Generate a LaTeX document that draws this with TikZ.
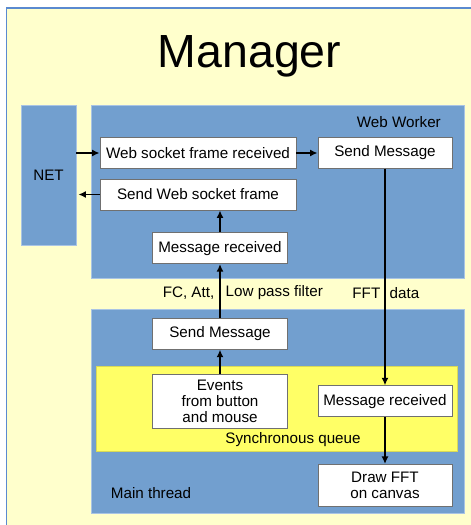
\documentclass[tikz,border=0pt]{standalone}
\usepackage{fontspec}
\setmainfont{Liberation Sans}
\usetikzlibrary{arrows.meta}
\definecolor{paper}{HTML}{FFFFCC}
\definecolor{frameblue}{HTML}{5A8AD0}
\definecolor{panel}{HTML}{729FCF}
\definecolor{paneledge}{HTML}{A9C4E4}
\definecolor{queue}{HTML}{FFFF66}
\definecolor{boxedge}{HTML}{707070}
\begin{document}
\begin{tikzpicture}[x=1pt,y=-1pt,
  txt/.style={font=\fontsize{15.2}{16.3}\selectfont, text=black},
  panelbox/.style={draw=paneledge, line width=0.8pt, fill=panel, inner sep=0pt},
  wbox/.style={txt, draw=boxedge, line width=0.8pt, fill=white, inner sep=0pt, align=center},
  flow/.style={line width=1.9pt, -{Latex[length=7.5pt,width=7pt]}},
  lbl/.style={txt, inner sep=0pt}]
\useasboundingbox (0,0) rectangle (471,525);
% sheet
\draw[frameblue, line width=1.2pt, fill=paper] (6.5,8) rectangle (480,535);
\node[font=\fontsize{46.5}{50}\selectfont, anchor=base, inner sep=0pt] (title) at (249.5,67.7) {Manager};
% panels
\node[panelbox, minimum width=55pt, minimum height=140pt] (net) at (48.5,175) {};
\node[txt] (netlbl) at (48.5,175.3) {NET};
\node[panelbox, minimum width=373pt, minimum height=173pt] (ww) at (277.5,191.5) {};
\node[lbl, anchor=east] (wwlbl) at (441,122) {Web Worker};
\node[panelbox, minimum width=373pt, minimum height=204pt] (main) at (277.5,411) {};
\node[fill=queue, draw=queue!85!black, line width=0.4pt, minimum width=361pt, minimum height=85.6pt, inner sep=0pt] (queue) at (276.5,408.5) {};
\node[lbl] (queuelbl) at (293,440) {Synchronous queue};
\node[lbl, anchor=west] (mainlbl) at (110.7,493.3) {Main thread};
% steps
\node[wbox, minimum width=196pt, minimum height=30.5pt] (wsfr) at (198,153) {Web socket frame received};
\node[wbox, minimum width=134pt, minimum height=30.5pt] (smtop) at (385,153) {Send Message};
\node[wbox, minimum width=196pt, minimum height=31pt] (swsf) at (198,194.5) {Send Web socket frame};
\node[wbox, minimum width=134.6pt, minimum height=31pt] (mrww) at (220,248.2) {Message received};
\node[wbox, minimum width=134.6pt, minimum height=30.6pt] (smmain) at (220,334) {Send Message};
\node[wbox, minimum width=134.6pt, minimum height=54pt] (events) at (220,401.3) {Events\\ from button\\ and mouse};
\node[wbox, minimum width=134pt, minimum height=31pt] (mrmain) at (385,401.2) {Message received};
\node[wbox, minimum width=134pt, minimum height=41.7pt] (drawfft) at (385,485.2) {Draw FFT\\ on canvas};
% labels on the cross-thread messages
\node[lbl, anchor=east] (fcatt) at (214.5,293) {FC, Att,};
\node[lbl, anchor=west] (lowpass) at (225.5,293) {Low pass filter};
\node[lbl, anchor=east] (fftw) at (380.5,293) {FFT};
\node[lbl, anchor=west] (dataw) at (389.5,293) {data};
% connectors
\draw[flow] (net.east |- wsfr) -- (wsfr.west);
\draw[flow] (wsfr.east) -- (smtop.west);
\draw[flow, shorten >=2pt] (swsf.west) -- (net.east |- swsf);
\draw[flow] (mrww.north) -- (swsf.south -| mrww.north);
\draw[flow] (smmain.north) -- (mrww.south);
\draw[flow] (events.north) -- (smmain.south);
\draw[flow] (smtop.south) -- (mrmain.north);
\draw[flow] (mrmain.south) -- (drawfft.north);
\end{tikzpicture}
\end{document}
